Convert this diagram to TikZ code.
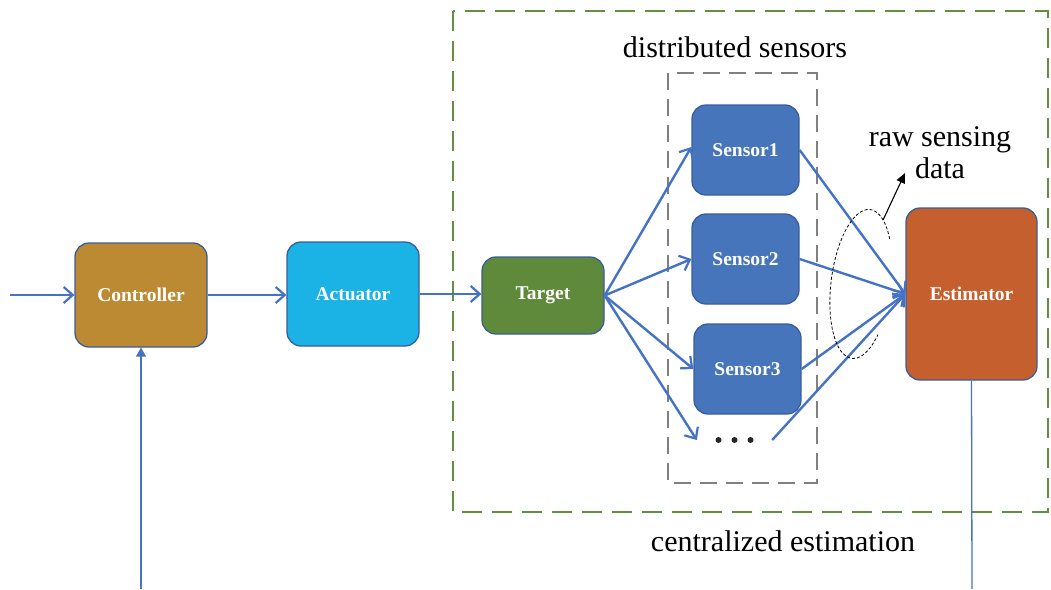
\documentclass[tikz,border=0pt]{standalone}
\usepackage{fontspec}
\setmainfont{Liberation Serif}
\usetikzlibrary{arrows.meta}

\definecolor{ctrlfill}{RGB}{187,138,50}
\definecolor{actfill}{RGB}{27,178,230}
\definecolor{tgtfill}{RGB}{95,138,60}
\definecolor{sensfill}{RGB}{70,117,187}
\definecolor{estfill}{RGB}{198,95,46}
\definecolor{boxedge}{RGB}{58,93,156}
\definecolor{flowblue}{RGB}{68,114,196}
\definecolor{zonegreen}{RGB}{98,144,63}
\definecolor{zonegray}{RGB}{128,128,128}

\tikzset{
  block/.style={draw=boxedge, line width=1.3pt, rounded corners=14pt,
    text=white, inner sep=0pt,
    font=\bfseries\fontsize{19.5}{20}\selectfont},
  flow/.style={draw=flowblue, line width=2.4pt,
    -{Straight Barb[length=9pt,width=16pt,line width=2.2pt]}},
  thinflow/.style={draw=flowblue, line width=1.3pt},
  label/.style={font=\fontsize{30}{32}\selectfont, inner sep=0pt, align=center},
}

\begin{document}
\begin{tikzpicture}[x=1pt, y=-1pt]
\useasboundingbox (0,0) rectangle (1051,589);

% dashed grouping frames
\draw[zonegreen, line width=2.4pt, dash pattern=on 20pt off 10pt]
  (453,11) rectangle (1048,512);
\draw[zonegray, line width=2.4pt, dash pattern=on 17pt off 9pt]
  (668,73) rectangle (817,483);

% blocks
\node[block, fill=ctrlfill, minimum width=132pt, minimum height=104pt] (ctrl) at (141,295) {Controller};
\node[block, fill=actfill, minimum width=132pt, minimum height=104pt] (act) at (353,294) {Actuator};
\node[block, fill=tgtfill, minimum width=122pt, minimum height=77pt] (tgt) at (543,295.5) {Target};
\node[block, fill=sensfill, minimum width=107pt, minimum height=90pt] (s1) at (745.5,150) {Sensor1};
\node[block, fill=sensfill, minimum width=107pt, minimum height=90pt] (s2) at (745.5,259) {Sensor2};
\node[block, fill=sensfill, minimum width=107pt, minimum height=90pt] (s3) at (747.5,369) {Sensor3};
\node[block, fill=estfill, minimum width=131pt, minimum height=172pt] (est) at (971.5,294) {Estimator};
\node[minimum width=75pt, minimum height=14pt, inner sep=0pt] (dots) at (734.5,440) {};
\foreach \dx in {-16,0,16} \fill[black!85] ([xshift=\dx pt]dots.center) circle (3pt);

% text labels
\node[label] (lds) at (735,47) {distributed sensors};
\node[label] (lraw) at (940,153) {raw sensing\\data};
\node[label] (lce) at (783,541) {centralized estimation};

% main signal path
\coordinate (in) at (10,295);
\draw[flow] (in) -- (ctrl.west);
\draw[flow] (ctrl.east) -- (act.west |- ctrl.east);
\draw[flow] (act.east) -- (tgt.west |- act.east);

% target to sensors
\draw[flow] (tgt.east) -- ([yshift=3pt]s1.west);
\draw[flow] (tgt.east) -- (s2.west);
\draw[flow] (tgt.east) -- (s3.west);
\draw[flow] (tgt.east) -- (dots.west);

% sensors to estimator
\draw[flow] (s1.east) -- (est.west);
\draw[flow] (s2.east) -- (est.west);
\draw[flow] (s3.east) -- (est.west);
\draw[flow] (dots.east) -- (est.west);

% feedback and output lines
\coordinate (fb) at (141,589);
\draw[thinflow, -{Triangle[length=9pt,width=10pt]}] (fb) -- (ctrl.south);
\coordinate (out) at (972,589);
\draw[thinflow] (est.south) -- (out);

% raw data bundle
\begin{scope}[shift={(861,284)}, y=1pt, rotate=-7]
  \draw[black, line width=0.8pt, dash pattern=on 3pt off 2pt]
    (40:30pt and 75pt) arc[start angle=40, end angle=320, x radius=30pt, y radius=75pt];
  \coordinate (bundle) at (62:30pt and 75pt);
\end{scope}
\coordinate (rawtip) at (905,173);
\draw[black, line width=1.1pt, -{Triangle[length=10pt,width=9pt]}] (bundle) -- (rawtip);

\end{tikzpicture}
\end{document}
